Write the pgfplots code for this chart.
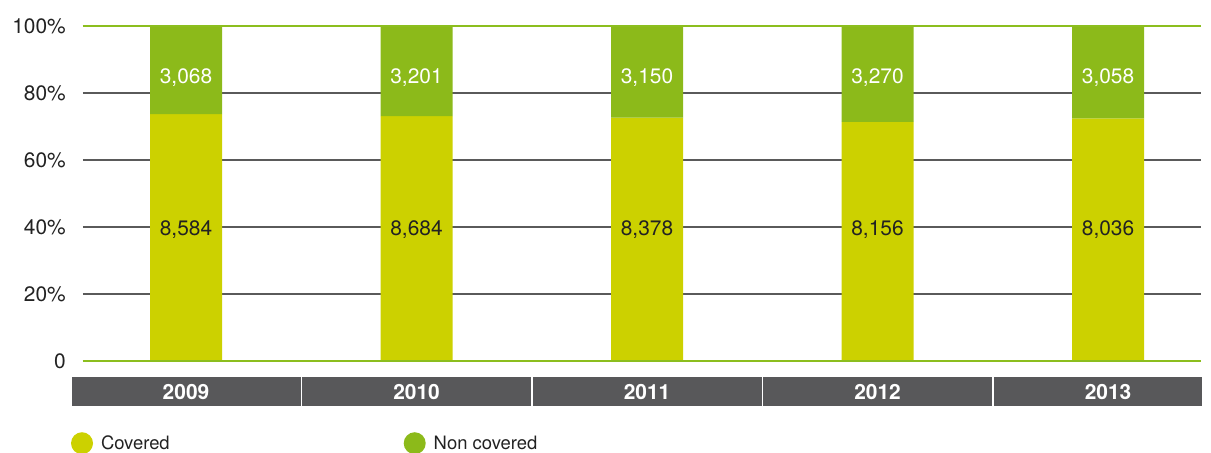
\documentclass[border=0pt]{standalone}
\usepackage{fontspec}
\setmainfont{TeX Gyre Heros}
\usepackage{pgfplots}
\pgfplotsset{compat=1.18}
\definecolor{cov}{HTML}{CCD100}
\definecolor{ncov}{HTML}{8CBA1A}
\definecolor{boxg}{HTML}{58585A}
\definecolor{gridg}{HTML}{5A5A5A}
\definecolor{lineg}{HTML}{8CBE1E}
\definecolor{txt}{HTML}{222222}
\begin{document}
\begin{tikzpicture}
% category band (drawn first so the tick labels sit on it)
\fill[boxg] (-11bp,-16bp) rectangle (1119bp,-45bp);
\foreach \x in {218.25,448.75,679.25,909.75}
  \draw[white, line width=1.5bp] (\x bp,-16bp) -- (\x bp,-45bp);
\begin{axis}[
  name=ax, at={(0,0)}, anchor=south west,
  scale only axis, width=1118bp, height=335bp,
  xmin=-0.4469, xmax=4.4035, ymin=0, ymax=100,
  clip=false,
  axis line style={draw=none},
  major tick length=0pt,
  xtick={0,1,2,3,4}, xticklabels={2009,2010,2011,2012,2013},
  xticklabel style={anchor=center, yshift=-31bp, text=white, inner sep=0pt,
     font=\fontsize{21}{25}\selectfont\bfseries},
  ytick={0,20,40,60,80,100}, yticklabels={0,20\%,40\%,60\%,80\%,100\%},
  yticklabel style={inner sep=0pt, xshift=-17bp, text=txt, font=\fontsize{21}{25}\selectfont},
  ymajorgrids, grid style={gridg, line width=1.4bp},
  legend columns=2,
  legend style={at={(-0.01073,-0.2455)}, anchor=west, draw=none, fill=none,
     inner sep=0pt, outer sep=0pt, nodes={inner sep=0pt}, text=txt,
     font=\fontsize{18.5}{22}\selectfont,
     /tikz/every odd column/.append style={column sep=8bp},
     /tikz/every even column/.append style={column sep=234bp}},
]
\addplot[ybar, stack plots=y, bar width=72bp, bar shift=0pt, fill=cov, draw=none,
  legend image code/.code={\fill[cov] (11bp,0bp) circle (11bp);}]
  coordinates {(0,73.67) (1,73.07) (2,72.68) (3,71.38) (4,72.44)};
\addlegendentry{Covered}
\addplot[ybar, stack plots=y, bar width=72bp, bar shift=0pt, fill=ncov, draw=none,
  legend image code/.code={\fill[ncov] (11bp,0bp) circle (11bp);}]
  coordinates {(0,26.33) (1,26.93) (2,27.32) (3,28.62) (4,27.56)};
\addlegendentry{Non covered}

\addplot[forget plot, only marks, mark=none,
  nodes near coords, point meta=explicit symbolic,
  every node near coord/.append style={anchor=center, text=txt, inner sep=0pt,
     text depth=0pt, font=\fontsize{21}{25}\selectfont}]
  table[meta=lab] {
x y lab
0 39.7 8,584
1 39.7 8,684
2 39.7 8,378
3 39.7 8,156
4 39.7 8,036
};
\addplot[forget plot, only marks, mark=none,
  nodes near coords, point meta=explicit symbolic,
  every node near coord/.append style={anchor=center, text=white, inner sep=0pt,
     text depth=0pt, font=\fontsize{21}{25}\selectfont}]
  table[meta=lab] {
x y lab
0 85.1 3,068
1 85.1 3,201
2 85.1 3,150
3 85.1 3,270
4 85.1 3,058
};

\draw[lineg, line width=2bp] (rel axis cs:0,0) -- (rel axis cs:1,0);
\draw[lineg, line width=2bp] (rel axis cs:0,1) -- (rel axis cs:1,1);
\end{axis}
\pgfresetboundingbox
\path (-83bp,-92bp) rectangle (1128bp,361bp);
\end{tikzpicture}
\end{document}
